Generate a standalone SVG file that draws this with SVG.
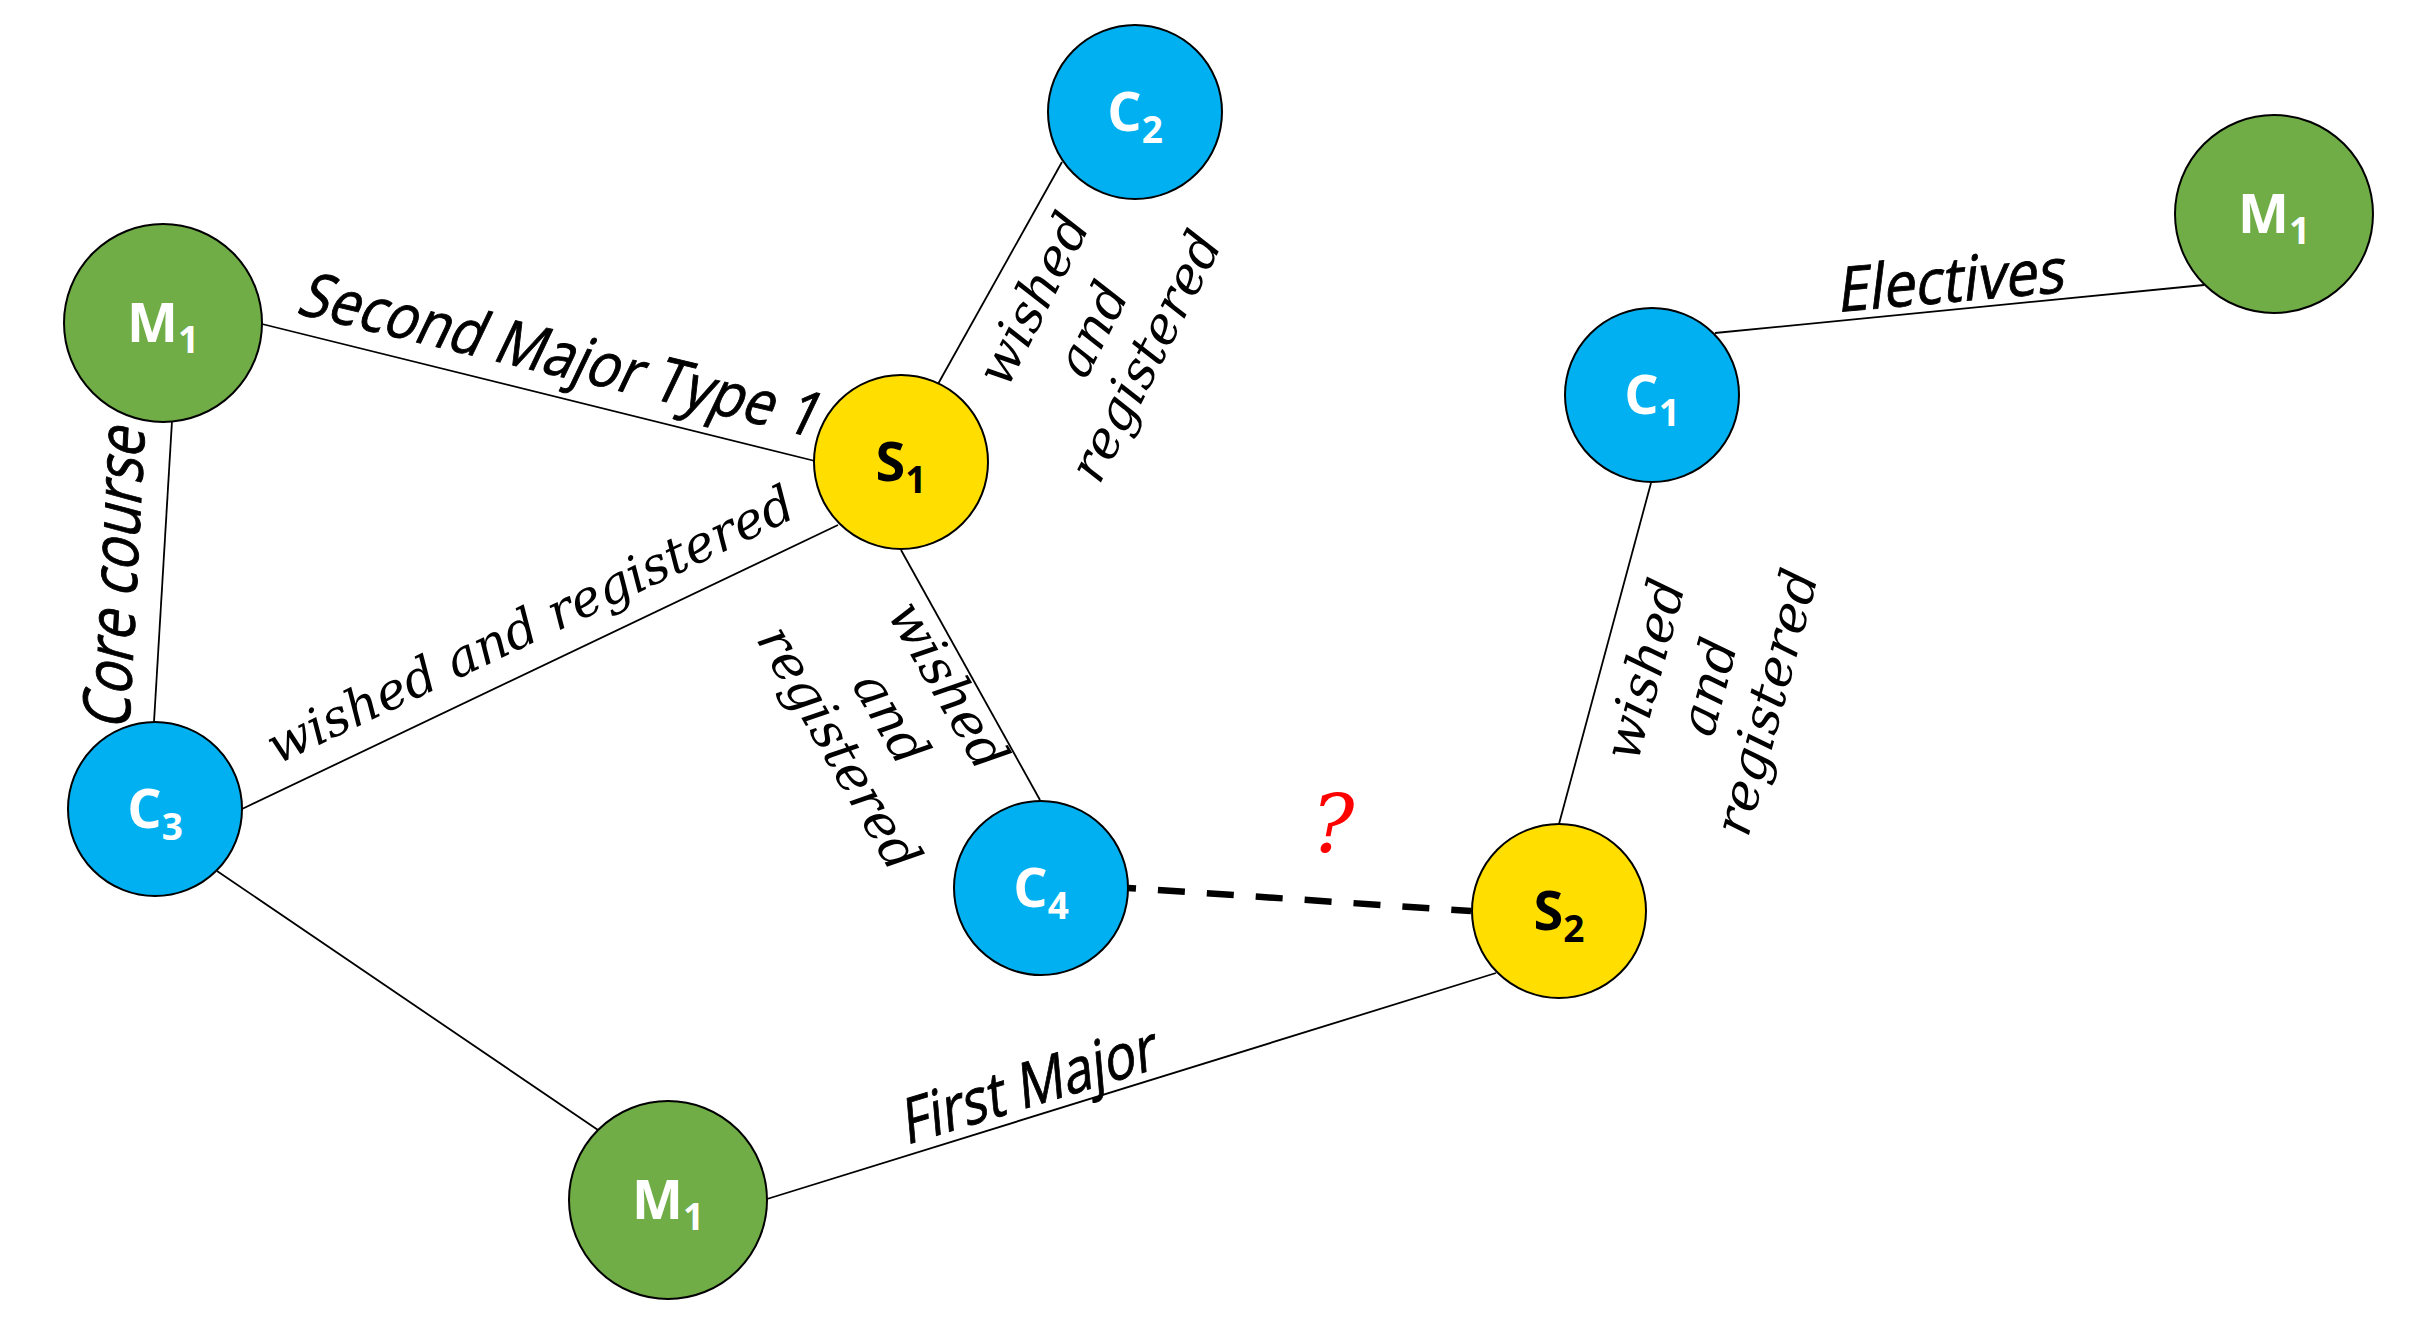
<svg xmlns="http://www.w3.org/2000/svg" width="2425" height="1331" viewBox="0 0 2425 1331">
<style>
.edge{stroke:#000;stroke-width:1.8;fill:none}
.dash{stroke:#000;stroke-width:6.5;stroke-dasharray:27 22;stroke-dashoffset:19;fill:none}
.node{stroke:#000;stroke-width:2}
.m{fill:#70AD47}.c{fill:#00B0F0}.s{fill:#FFDE00}
.nl{font-family:"Open Sans","Noto Sans",sans-serif;font-weight:700;font-size:54px;text-anchor:middle}
.w{fill:#fff}.k{fill:#000}
.sub{font-size:37px}
.el{font-family:"Open Sans","Noto Sans",sans-serif;font-size:62px;fill:#000;stroke:#000;stroke-width:0.9}
.ser{font-family:"DejaVu Serif",serif;font-style:italic;font-size:52px;fill:#000;text-anchor:middle}
.q{font-family:"DejaVu Serif",serif;font-style:italic;font-size:80px;fill:#FF0000;text-anchor:middle}
</style>
<rect width="2425" height="1331" fill="#fff"/>
<g id="connectors">
<line class="edge" x1="262" y1="324" x2="815" y2="461"/>
<line class="edge" x1="172" y1="421" x2="154" y2="722"/>
<line class="edge" x1="938" y1="384" x2="1062" y2="162"/>
<line class="edge" x1="838" y1="525" x2="242" y2="809"/>
<line class="edge" x1="901" y1="550" x2="1040" y2="800"/>
<line class="edge" x1="217" y1="871" x2="598" y2="1130"/>
<line class="edge" x1="767" y1="1199" x2="1496" y2="973"/>
<line class="edge" x1="1559" y1="824" x2="1651" y2="483"/>
<line class="edge" x1="1715" y1="333" x2="2204" y2="285"/>
<line class="dash" x1="1128" y1="888" x2="1471" y2="911"/>
</g>
<g id="edge-labels">
<text class="el" transform="translate(295,313) rotate(13.5) skewX(-12)" textLength="532" lengthAdjust="spacingAndGlyphs">Second Major Type 1</text>
<text class="el" style="font-size:66px" transform="translate(129,731) rotate(-87) skewX(-12)" textLength="302" lengthAdjust="spacingAndGlyphs">Core course</text>
<text class="el" transform="translate(1837,312) rotate(-5) skewX(-12)" textLength="228" lengthAdjust="spacingAndGlyphs">Electives</text>
<text class="el" transform="translate(906,1145) rotate(-17) skewX(-12)" textLength="264" lengthAdjust="spacingAndGlyphs">First Major</text>
<text class="ser" style="text-anchor:start;font-size:51px" transform="translate(277,765) rotate(-25.5)">wished and registered</text>
<g transform="translate(1090,328) rotate(-63)">
<text class="ser" y="-46">wished</text><text class="ser" y="20">and</text><text class="ser" y="80">registered</text>
</g>
<g transform="translate(893,717) rotate(60)">
<text class="ser" y="-46">wished</text><text class="ser" y="20">and</text><text class="ser" y="80">registered</text>
</g>
<g transform="translate(1706,686) rotate(-75)">
<text class="ser" y="-46">wished</text><text class="ser" y="20">and</text><text class="ser" y="80">registered</text>
</g>
<text class="q" x="1333" y="852">?</text>
</g>
<g id="node-M1-left"><circle class="node m" cx="163" cy="323" r="99"/><text class="nl w" x="163" y="342">M<tspan class="sub" dy="11">1</tspan></text></g>
<g id="node-C2"><circle class="node c" cx="1135" cy="112" r="87"/><text class="nl w" x="1135" y="131">C<tspan class="sub" dy="12">2</tspan></text></g>
<g id="node-S1"><circle class="node s" cx="901" cy="462" r="87"/><text class="nl k" x="901" y="481">S<tspan class="sub" dy="12">1</tspan></text></g>
<g id="node-C1"><circle class="node c" cx="1652" cy="395" r="87"/><text class="nl w" x="1652" y="414">C<tspan class="sub" dy="12">1</tspan></text></g>
<g id="node-M1-right"><circle class="node m" cx="2274" cy="214" r="99"/><text class="nl w" x="2274" y="233">M<tspan class="sub" dy="11">1</tspan></text></g>
<g id="node-C3"><circle class="node c" cx="155" cy="809" r="87"/><text class="nl w" x="155" y="828">C<tspan class="sub" dy="12">3</tspan></text></g>
<g id="node-C4"><circle class="node c" cx="1041" cy="888" r="87"/><text class="nl w" x="1041" y="907">C<tspan class="sub" dy="12">4</tspan></text></g>
<g id="node-S2"><circle class="node s" cx="1559" cy="911" r="87"/><text class="nl k" x="1559" y="930">S<tspan class="sub" dy="12">2</tspan></text></g>
<g id="node-M1-bottom"><circle class="node m" cx="668" cy="1200" r="99"/><text class="nl w" x="668" y="1219">M<tspan class="sub" dy="11">1</tspan></text></g>
</svg>
